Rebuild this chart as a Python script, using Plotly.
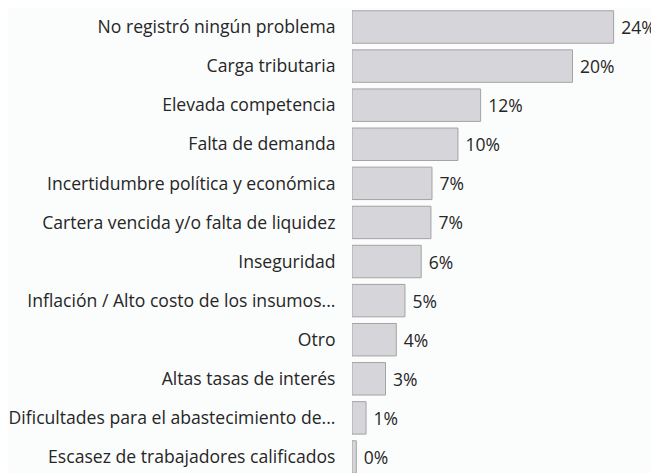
import plotly.graph_objects as go

categories = [
    "No registró ningún problema",
    "Carga tributaria",
    "Elevada competencia",
    "Falta de demanda",
    "Incertidumbre política y económica",
    "Cartera vencida y/o falta de liquidez",
    "Inseguridad",
    "Inflación / Alto costo de los insumos...",
    "Otro",
    "Altas tasas de interés",
    "Dificultades para el abastecimiento de...",
    "Escasez de trabajadores calificados",
]
values = [24.2, 20.4, 11.9, 9.8, 7.4, 7.3, 6.4, 4.9, 4.1, 3.1, 1.3, 0.4]

FONT = "Open Sans"
TXT = "#262626"

fig = go.Figure(
    go.Bar(
        x=values,
        y=categories,
        orientation="h",
        marker=dict(color="#d6d6da", line=dict(color="#a3a3a6", width=1)),
        texttemplate=" %{x:.0f}%",
        textposition="outside",
        textfont=dict(family=FONT, size=17.5, color=TXT),
        cliponaxis=False,
        width=0.83,
    )
)

# page body adds an 8px offset, so the figure is sized/placed to compensate
fig.update_layout(
    width=651,
    height=465,
    margin=dict(l=344, r=0, t=0, b=0),
    paper_bgcolor="#fbfcfc",
    plot_bgcolor="rgba(0,0,0,0)",
    showlegend=False,
    font=dict(family=FONT, size=17.5, color=TXT),
    xaxis=dict(range=[0, 28.4], visible=False, fixedrange=True, automargin=False),
    yaxis=dict(
        type="category",
        categoryorder="array",
        categoryarray=categories,
        range=[11.41, -0.486],
        showgrid=False,
        zeroline=False,
        showline=False,
        automargin=False,
        ticks="outside",
        ticklen=12,
        tickcolor="rgba(0,0,0,0)",
        tickfont=dict(family=FONT, size=17.6, color=TXT),
    ),
)

fig.write_html("out.html")
